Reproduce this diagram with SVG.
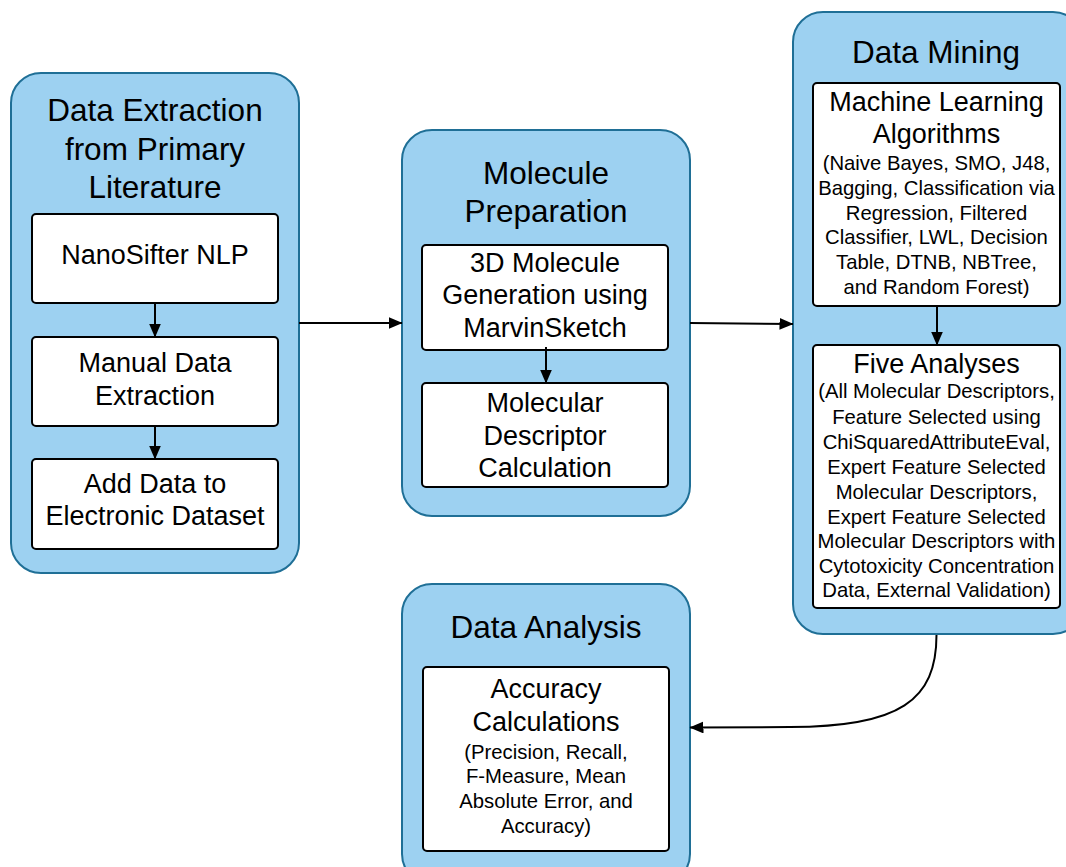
<svg xmlns="http://www.w3.org/2000/svg" width="1066" height="867" viewBox="0 0 1066 867">
<defs>
<style>
.cont{fill:#9dd1f1;stroke:#1f6f96;stroke-width:2}
.box{fill:#ffffff;stroke:#000000;stroke-width:2}
text{font-family:"Liberation Sans",Arial,sans-serif;fill:#000;text-anchor:middle}
.t{font-size:31.5px}
.m{font-size:27px}
.s{font-size:20.3px}
.conn{fill:none;stroke:#000;stroke-width:2}
</style>
<marker id="ah" viewBox="0 0 14 12" refX="13.5" refY="6" markerWidth="14" markerHeight="12" markerUnits="userSpaceOnUse" orient="auto">
<path d="M0,0 L14,6 L0,12 Z" fill="#000"/>
</marker>
</defs>
<rect width="1066" height="867" fill="#ffffff"/>

<g id="data-extraction">
<rect class="cont" x="11" y="73" width="288" height="500" rx="30"/>
<text class="t" x="155" y="121">Data Extraction</text>
<text class="t" x="155" y="160">from Primary</text>
<text class="t" x="155" y="198">Literature</text>
</g>
<g id="nanosifter">
<rect class="box" x="32" y="214" width="246" height="89" rx="4"/>
<text class="m" x="155" y="264">NanoSifter NLP</text>
</g>
<g id="manual">
<rect class="box" x="32" y="337" width="246" height="89" rx="4"/>
<text class="m" x="155" y="372">Manual Data</text>
<text class="m" x="155" y="405">Extraction</text>
</g>
<g id="add-data">
<rect class="box" x="32" y="459" width="246" height="90" rx="4"/>
<text class="m" x="155" y="493">Add Data to</text>
<text class="m" x="155" y="525">Electronic Dataset</text>
</g>

<g id="molecule-prep">
<rect class="cont" x="402" y="130" width="288" height="386" rx="30"/>
<text class="t" x="546" y="184">Molecule</text>
<text class="t" x="546" y="222">Preparation</text>
</g>
<g id="gen3d">
<rect class="box" x="422" y="245" width="246" height="105" rx="4"/>
<text class="m" x="545" y="272">3D Molecule</text>
<text class="m" x="545" y="304">Generation using</text>
<text class="m" x="545" y="337">MarvinSketch</text>
</g>
<g id="descriptor">
<rect class="box" x="422" y="383" width="246" height="104" rx="4"/>
<text class="m" x="545" y="412">Molecular</text>
<text class="m" x="545" y="445">Descriptor</text>
<text class="m" x="545" y="477">Calculation</text>
</g>

<g id="data-mining">
<rect class="cont" x="793" y="12" width="290" height="622" rx="30"/>
<text class="t" x="936" y="63">Data Mining</text>
</g>
<g id="ml">
<rect class="box" x="813" y="83" width="247" height="223" rx="4"/>
<text class="m" x="936.5" y="111">Machine Learning</text>
<text class="m" x="936.5" y="143">Algorithms</text>
<text class="s" x="936.5" y="170">(Naive Bayes, SMO, J48,</text>
<text class="s" x="936.5" y="195">Bagging, Classification via</text>
<text class="s" x="936.5" y="220">Regression, Filtered</text>
<text class="s" x="936.5" y="244">Classifier, LWL, Decision</text>
<text class="s" x="936.5" y="269">Table, DTNB, NBTree,</text>
<text class="s" x="936.5" y="294">and Random Forest)</text>
</g>
<g id="five">
<rect class="box" x="813" y="345" width="247" height="263" rx="4"/>
<text class="m" x="936.5" y="373">Five Analyses</text>
<text class="s" x="936.5" y="398">(All Molecular Descriptors,</text>
<text class="s" x="936.5" y="424">Feature Selected using</text>
<text class="s" x="936.5" y="449">ChiSquaredAttributeEval,</text>
<text class="s" x="936.5" y="474">Expert Feature Selected</text>
<text class="s" x="936.5" y="499">Molecular Descriptors,</text>
<text class="s" x="936.5" y="524">Expert Feature Selected</text>
<text class="s" x="936.5" y="548">Molecular Descriptors with</text>
<text class="s" x="936.5" y="573">Cytotoxicity Concentration</text>
<text class="s" x="936.5" y="597">Data, External Validation)</text>
</g>

<g id="data-analysis">
<rect class="cont" x="402" y="584" width="288" height="300" rx="30"/>
<text class="t" x="546" y="638">Data Analysis</text>
</g>
<g id="accuracy">
<rect class="box" x="423" y="667" width="246" height="184" rx="4"/>
<text class="m" x="546" y="698">Accuracy</text>
<text class="m" x="546" y="731">Calculations</text>
<text class="s" x="546" y="759">(Precision, Recall,</text>
<text class="s" x="546" y="783">F-Measure, Mean</text>
<text class="s" x="546" y="808">Absolute Error, and</text>
<text class="s" x="546" y="833">Accuracy)</text>
</g>

<g id="connectors">
<line class="conn" x1="155" y1="303" x2="155" y2="337" marker-end="url(#ah)"/>
<line class="conn" x1="155" y1="426" x2="155" y2="459" marker-end="url(#ah)"/>
<line class="conn" x1="546" y1="347" x2="546" y2="383" marker-end="url(#ah)"/>
<line class="conn" x1="937" y1="306" x2="937" y2="345" marker-end="url(#ah)"/>
<line class="conn" x1="299" y1="323" x2="402" y2="323" marker-end="url(#ah)"/>
<line class="conn" x1="690" y1="323" x2="793" y2="324" marker-end="url(#ah)"/>
<path class="conn" d="M936.5,635 C936.5,700 900,727 790,727 L690,727.5" marker-end="url(#ah)"/>
</g>
</svg>
